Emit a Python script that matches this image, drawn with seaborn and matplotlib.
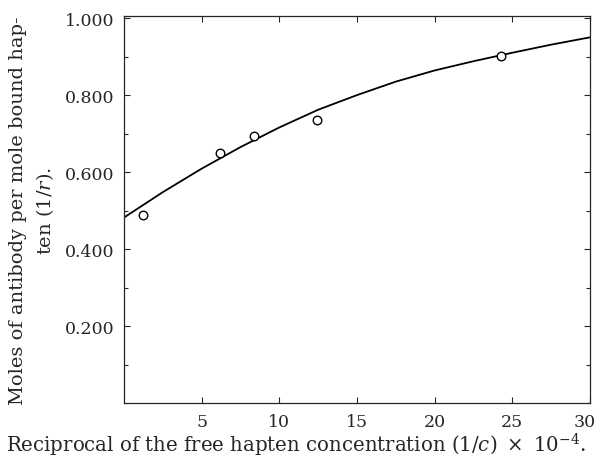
import numpy as np
import pandas as pd
import matplotlib
matplotlib.use("Agg")
import matplotlib.pyplot as plt
import matplotlib.transforms as mtransforms
import seaborn as sns
from matplotlib.ticker import MultipleLocator

# measured points (1/c x 10^-4, 1/r)
pts_x = [1.2, 6.15, 8.35, 12.4, 24.3]
pts_y = [0.488, 0.649, 0.694, 0.736, 0.902]

# drawn curve
curve_x = [0, 2.5, 5, 7.5, 10, 12.5, 15, 17.5, 20, 22.5, 25, 27.5, 30]
curve_y = [0.482, 0.548, 0.609, 0.665, 0.716, 0.762, 0.800, 0.835, 0.864, 0.888, 0.910, 0.931, 0.950]

xticks = [5, 10, 15, 20, 25, 30]
yticks = [0.2, 0.4, 0.6, 0.8, 1.0]
ytick_labels = ["0.200", "0.400", "0.600", "0.800", "1.000"]

sns.set_style("ticks")
plt.rcParams["font.family"] = ["DejaVu Serif"]
plt.rcParams["mathtext.fontset"] = "dejavuserif"

fig = plt.figure(figsize=(5.97, 4.64), dpi=100)
ax = fig.add_axes([0.2077, 0.129, 0.7805, 0.834])

pts = pd.DataFrame({"x": pts_x, "y": pts_y})
curve = pd.DataFrame({"x": curve_x, "y": curve_y})

sns.lineplot(data=curve, x="x", y="y", ax=ax, color="black", linewidth=1.3)
sns.scatterplot(data=pts, x="x", y="y", ax=ax, marker="o", s=38,
                facecolor="white", edgecolor="black", linewidth=1.0, zorder=3)

ax.set_xlim(0, 30)
ax.set_ylim(0, 1.005)
ax.set_xticks(xticks)
ax.set_yticks(yticks)
ax.set_yticklabels(ytick_labels)
ax.yaxis.set_minor_locator(MultipleLocator(0.1))
ax.tick_params(which="both", direction="in", top=True, right=True,
               labelsize=12.5, length=4, width=0.8, pad=7)
ax.tick_params(which="minor", length=3)
for s in ax.spines.values():
    s.set_linewidth(0.9)

# nudge the "30" a little left so it stays inside the figure
lab = ax.get_xticklabels()[-1]
lab.set_transform(lab.get_transform() + mtransforms.ScaledTranslation(-5 / 100, 0, fig.dpi_scale_trans))

ax.set_xlabel(r"Reciprocal of the free hapten concentration $(1/c)\ \times\ 10^{-4}$.",
              fontsize=14.2)
ax.xaxis.set_label_coords(0.369, -0.071, transform=ax.transAxes)
ax.xaxis.label.set_va("top")
ax.set_ylabel("Moles of antibody per mole bound hap-\nten $(1/r)$.",
              fontsize=14, labelpad=6, linespacing=1.45, multialignment="center")

fig.savefig("out.png", dpi=100)
